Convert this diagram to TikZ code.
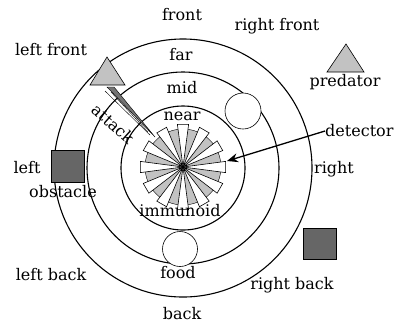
\documentclass[tikz,border=0pt]{standalone}
\usepackage{fontspec}
\setmainfont{DejaVu Serif}
\usetikzlibrary{arrows.meta,patterns}
\begin{document}
\begin{tikzpicture}[x=1pt,y=-1pt,
  ring/.style={draw=black,line width=1.1pt},
  lbl/.style={font=\fontsize{16}{17}\selectfont,inner sep=0pt},
  stipple/.style={fill=black!24},
  darkbox/.style={draw=black,line width=0.6pt,fill=black!60},
  blob/.style={draw=black,line width=0.6pt,fill=white,circle}]
\useasboundingbox (0,0) rectangle (406,325);
\coordinate (c) at (183,168);
% rings
\draw[ring] (c) circle[radius=129];
\draw[ring] (c) circle[radius=96];
\draw[ring] (c) circle[radius=62];
% detector
\begin{scope}[shift={(183,167)}]
  \fill[stipple] (0,0) circle[radius=38];
  \draw[line width=0.4pt] (0,0) circle[radius=38];
  \foreach \a in {90,120,150,180,210,240,270,300,330,0,30,60}{
    \draw[line width=0.6pt,fill=white] (0,0) -- (\a-7.5:43) -- (\a+7.5:43) -- cycle;
  }
  \fill (0,0) circle[radius=1.5];
\end{scope}
\node[inner sep=0pt] (det) at (183,167) {};
% circles (food and mid)
\node[blob,minimum size=35pt,inner sep=0pt] (food) at (180,249) {};
\node[blob,minimum size=36pt,inner sep=0pt] (midc) at (243,111) {};
% obstacle squares
\node[darkbox,minimum width=33pt,minimum height=32pt,inner sep=0pt] (obs) at (68,166) {};
\node[darkbox,minimum width=33pt,minimum height=31pt,inner sep=0pt] (obs2) at (320,244) {};
% triangles
\draw[line width=0.6pt,stipple,draw=black] (107,57) -- (125,85) -- (90,85) -- cycle;
\draw[line width=0.6pt,stipple,draw=black] (346,44) -- (364,72) -- (327,72) -- cycle;
% attack beam
\draw[line width=0.4pt,fill=black!55] (107,87) -- (114,87) -- (155,137) -- cycle;
\draw[line width=0.4pt] (105,91) -- (150,135);
\draw[line width=0.4pt] (111,92) -- (148,132);
% labels
\node[lbl] (front) at (182,15) {front};
\node[lbl] (rfront) at (277,26) {right front};
\node[lbl] (lfront) at (51,50) {left front};
\node[lbl] (far) at (181,55) {far};
\node[lbl] (mid) at (182,88) {mid};
\node[lbl] (near) at (182,116) {near};
\node[lbl] (imm) at (180,211) {immunoid};
\node[lbl] (foodl) at (178,273) {food};
\node[lbl] (back) at (182,314) {back};
\node[lbl] (left) at (27,168) {left};
\node[lbl] (obsl) at (63,192) {obstacle};
\node[lbl] (right) at (334,169) {right};
\node[lbl] (lback) at (51,275) {left back};
\node[lbl] (rback) at (292,285) {right back};
\node[lbl] (pred) at (345,82) {predator};
\node[lbl,anchor=west] (detl) at (325,131) {detector};
\node[lbl,rotate=-42] (att) at (113,124) {attack};
% detector arrow
\draw[line width=1.3pt,-{Stealth[length=11pt,width=9pt]}] (detl.west) -- (227,161);
\end{tikzpicture}
\end{document}
